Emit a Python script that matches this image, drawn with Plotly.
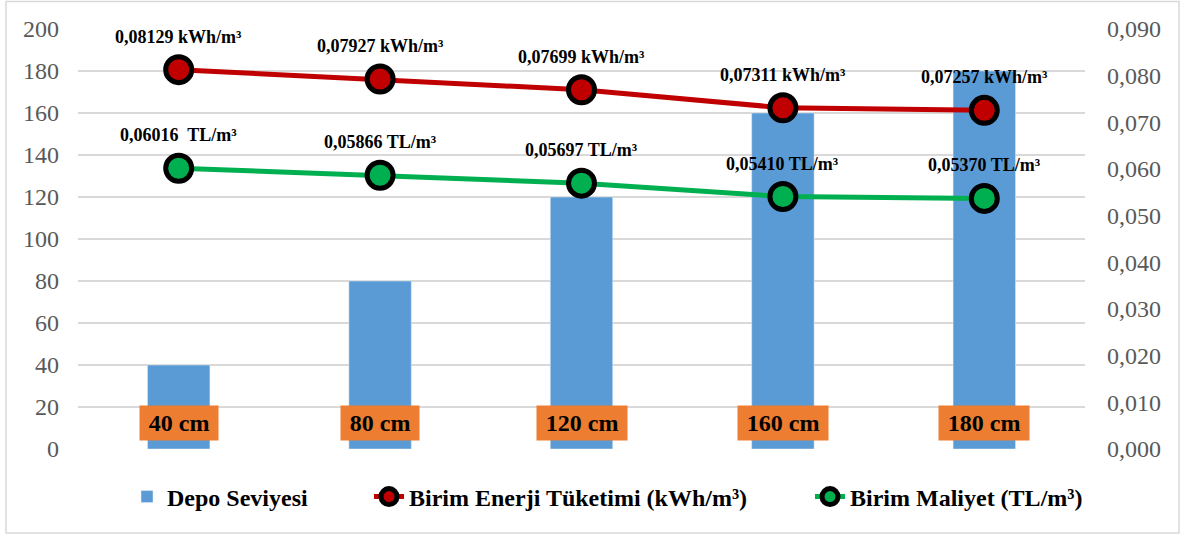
import plotly.graph_objects as go

# Tank level categories and measured values
levels = ["40 cm", "80 cm", "120 cm", "160 cm", "180 cm"]
depo = [40, 80, 120, 160, 180]
enerji = [0.08129, 0.07927, 0.07699, 0.07311, 0.07257]
maliyet = [0.06016, 0.05866, 0.05697, 0.05410, 0.05370]
enerji_labels = ["0,08129 kWh/m³", "0,07927 kWh/m³", "0,07699 kWh/m³", "0,07311 kWh/m³", "0,07257 kWh/m³"]
maliyet_labels = ["0,06016  TL/m³", "0,05866 TL/m³", "0,05697 TL/m³", "0,05410 TL/m³", "0,05370 TL/m³"]

SERIF = "Liberation Serif"
W, H = 1182, 535
L, R, T, B = 78, 97, 29, 86
pw, ph = W - L - R, H - T - B


def px_x(p):
    return (p - L) / pw


def px_y(p):
    return (T + ph - p) / ph


fig = go.Figure()
fig.add_trace(go.Bar(
    x=levels, y=depo, name="Depo Seviyesi",
    marker_color="#5B9BD5", yaxis="y", legend="legend",
))
fig.add_trace(go.Scatter(
    x=levels, y=enerji, name="Birim Enerji Tüketimi (kWh/m³)", yaxis="y2",
    mode="lines+markers", legend="legend2",
    line=dict(color="#C00000", width=5),
    marker=dict(size=26, color="#C00000", line=dict(color="black", width=5)),
))
fig.add_trace(go.Scatter(
    x=levels, y=maliyet, name="Birim Maliyet (TL/m³)", yaxis="y2",
    mode="lines+markers", legend="legend3",
    line=dict(color="#00B050", width=5),
    marker=dict(size=26, color="#00B050", line=dict(color="black", width=5)),
))

label_font = dict(family=SERIF, size=18, color="#000000")
annotations = []
for lv, v, t in zip(levels, enerji, enerji_labels):
    annotations.append(dict(x=lv, y=v, xref="x", yref="y2", text=f"<b>{t}</b>",
                            showarrow=False, yshift=33, yanchor="middle", font=label_font))
for lv, v, t in zip(levels, maliyet, maliyet_labels):
    annotations.append(dict(x=lv, y=v, xref="x", yref="y2", text=f"<b>{t}</b>",
                            showarrow=False, yshift=33, yanchor="middle", font=label_font))
# category labels in orange boxes at the bar bases
for lv in levels:
    annotations.append(dict(x=lv, y=0, xref="x", yref="y", text=f"<b>&#8201;{lv}&#8201;</b>",
                            showarrow=False, yanchor="bottom", yshift=8,
                            bgcolor="#ED7D31", borderpad=4,
                            font=dict(family=SERIF, size=24, color="#000000")))

legend_font = dict(family=SERIF, size=24, color="#000000", weight="bold")
legend_common = dict(orientation="h", y=px_y(497), yanchor="middle", xanchor="left",
                     font=legend_font, bgcolor="rgba(0,0,0,0)")

fig.update_layout(
    width=W, height=H,
    margin=dict(l=L, r=R, t=T, b=B),
    paper_bgcolor="white", plot_bgcolor="white",
    separators=",.",
    bargap=0.69,
    showlegend=True,
    legend=dict(x=px_x(127), **legend_common),
    legend2=dict(x=px_x(369), **legend_common),
    legend3=dict(x=px_x(810), **legend_common),
    xaxis=dict(showticklabels=False, showgrid=False, zeroline=False, showline=False, ticks=""),
    yaxis=dict(range=[0, 200], dtick=20, showgrid=True, gridcolor="#D9D9D9", gridwidth=1.5,
               zeroline=False, showline=False, ticks="",
               tickfont=dict(family=SERIF, size=24, color="#595959"), ticklabelstandoff=18),
    yaxis2=dict(range=[0, 0.09], dtick=0.01, tickformat=".3f", overlaying="y", side="right",
                showgrid=False, zeroline=False, showline=False, ticks="",
                tickfont=dict(family=SERIF, size=24, color="#595959"), ticklabelstandoff=21),
    annotations=annotations,
    shapes=[dict(type="rect", xref="paper", yref="paper",
                 x0=px_x(6), x1=px_x(1179), y0=px_y(533), y1=px_y(1.5),
                 line=dict(color="#D9D9D9", width=1.5), layer="below")],
)

fig.write_html("out.html")
